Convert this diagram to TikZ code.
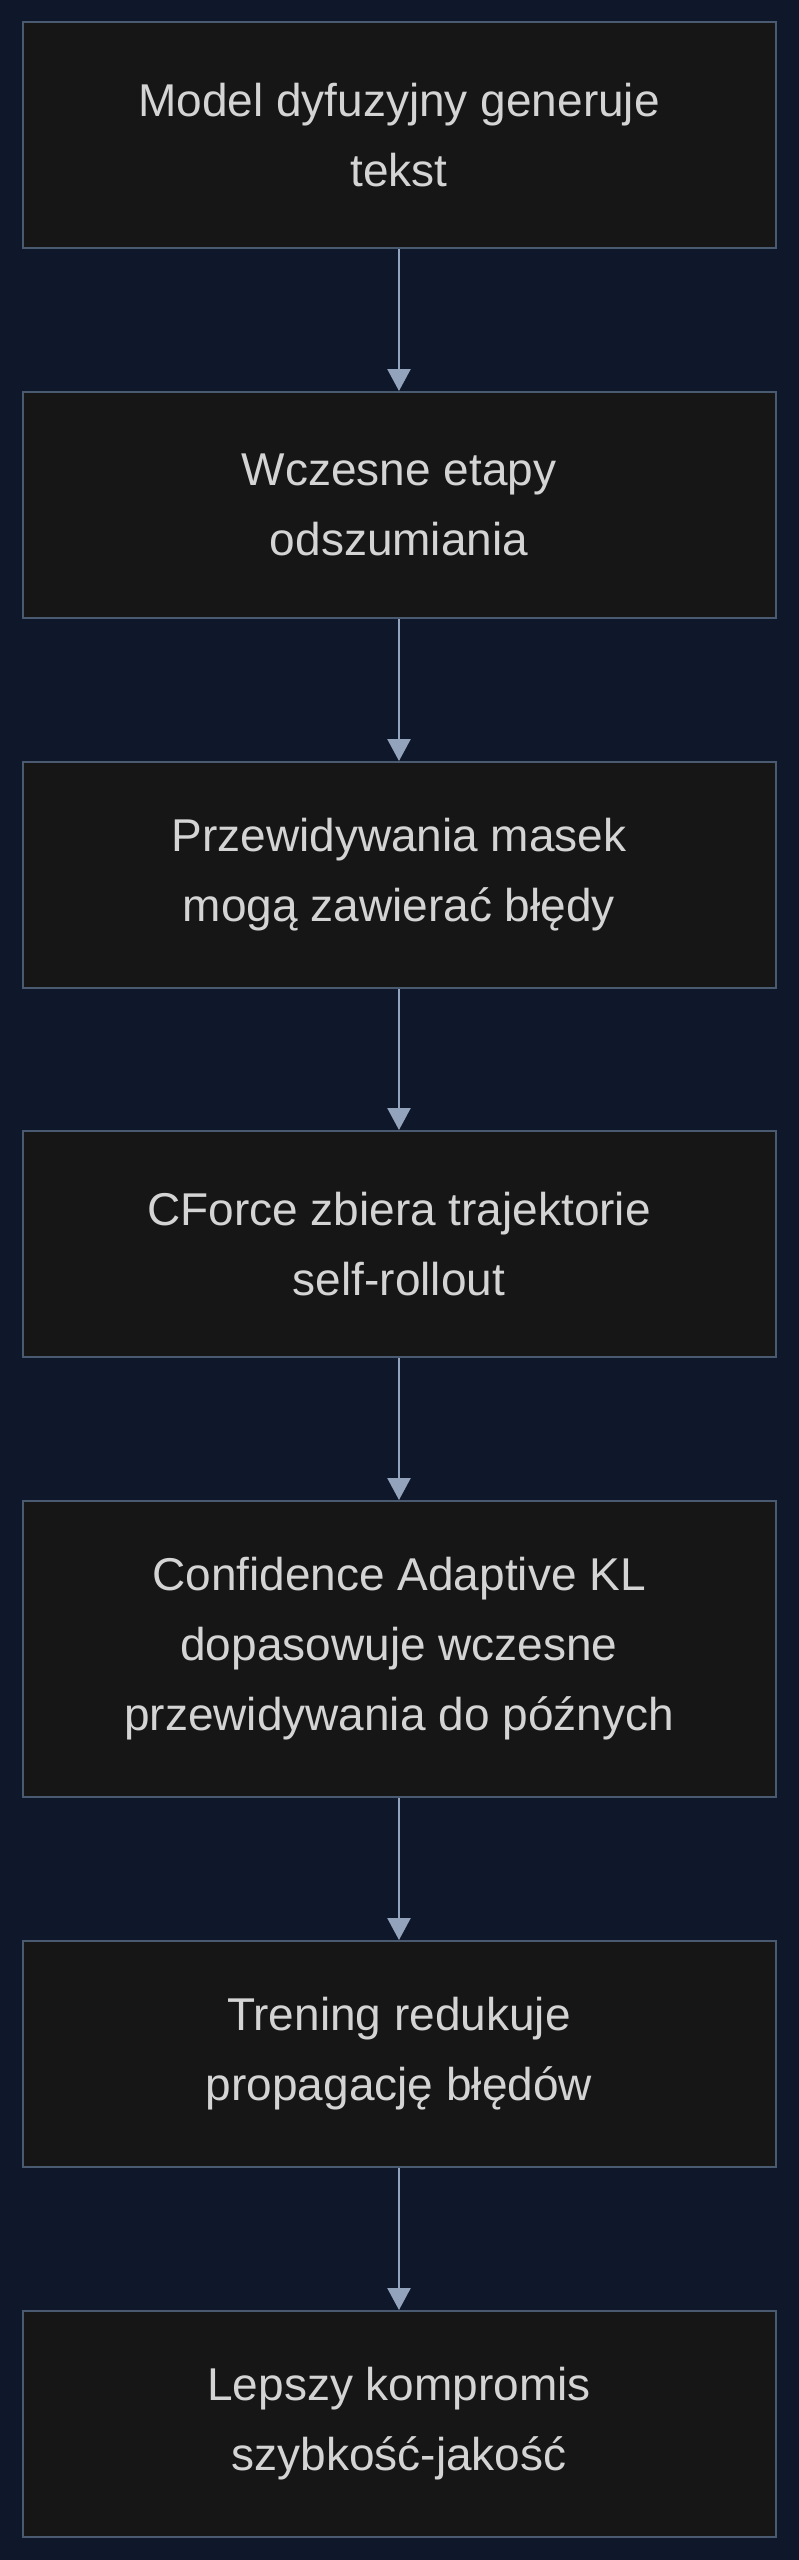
\documentclass[tikz,border=0pt]{standalone}
\usepackage{fontspec}
\setmainfont{Liberation Sans}
\usetikzlibrary{arrows.meta}
\definecolor{bg}{HTML}{0F172A}
\definecolor{boxfill}{HTML}{161616}
\definecolor{boxline}{HTML}{4A5A70}
\definecolor{arrowc}{HTML}{94A3BC}
\definecolor{txt}{HTML}{D4D4D4}
\begin{document}
\begin{tikzpicture}[x=1pt,y=1pt,
  stepbox/.style={draw=boxline, line width=2pt, fill=boxfill, minimum width=753pt,
    text=txt, align=center, inner sep=0pt,
    font=\fontsize{46}{70}\selectfont},
  conn/.style={draw=arrowc, line width=2.5pt, -{Triangle[length=22pt,width=23pt]}}]
\useasboundingbox (0,0) rectangle (798,-2560);
\fill[bg] (-10,10) rectangle (810,-2570);
\node[stepbox, minimum height=226pt] (a) at (399,-135) {Model dyfuzyjny generuje\\tekst};
\node[stepbox, minimum height=226pt] (b) at (399,-505) {Wczesne etapy\\odszumiania};
\node[stepbox, minimum height=226pt] (c) at (399,-875) {Przewidywania masek\\mogą zawierać błędy};
\node[stepbox, minimum height=226pt] (d) at (399,-1244) {CForce zbiera trajektorie\\self-rollout};
\node[stepbox, minimum height=296pt] (e) at (399,-1649) {Confidence Adaptive KL\\dopasowuje wczesne\\przewidywania do późnych};
\node[stepbox, minimum height=226pt] (f) at (399,-2054) {Trening redukuje\\propagację błędów};
\node[stepbox, minimum height=226pt] (g) at (399,-2424) {Lepszy kompromis\\szybkość-jakość};
\draw[conn] (a.south) -- (b.north);
\draw[conn] (b.south) -- (c.north);
\draw[conn] (c.south) -- (d.north);
\draw[conn] (d.south) -- (e.north);
\draw[conn] (e.south) -- (f.north);
\draw[conn] (f.south) -- (g.north);
\end{tikzpicture}
\end{document}
